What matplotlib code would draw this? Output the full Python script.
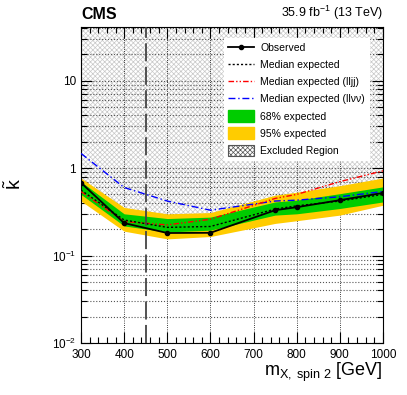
import matplotlib
matplotlib.use("Agg")
import matplotlib.pyplot as plt
import numpy as np
from matplotlib.lines import Line2D
from matplotlib.patches import Patch
from matplotlib.ticker import FixedLocator, NullFormatter

plt.rcParams["font.family"] = ["Liberation Sans", "DejaVu Sans"]
plt.rcParams["mathtext.fontset"] = "custom"
plt.rcParams["mathtext.rm"] = "Liberation Sans"
plt.rcParams["mathtext.it"] = "Liberation Sans:italic"
plt.rcParams["hatch.linewidth"] = 0.5

# ---- data ----
mass = [300, 400, 500, 600, 750, 800, 900, 1000]
observed = [0.68, 0.235, 0.181, 0.182, 0.33, 0.357, 0.43, 0.52]
expected = [0.56, 0.255, 0.21, 0.215, 0.34, 0.37, 0.42, 0.50]
exp_lljj = [0.54, 0.245, 0.224, 0.26, 0.45, 0.50, 0.70, 0.93]
exp_llvv = [1.47, 0.60, 0.42, 0.33, 0.42, 0.43, 0.47, 0.54]
band68_lo = [0.50, 0.218, 0.186, 0.195, 0.29, 0.30, 0.345, 0.41]
band68_hi = [0.70, 0.30, 0.265, 0.275, 0.41, 0.43, 0.51, 0.61]
band95_lo = [0.42, 0.19, 0.155, 0.165, 0.233, 0.25, 0.29, 0.376]
band95_hi = [0.77, 0.355, 0.30, 0.31, 0.49, 0.53, 0.63, 0.77]

xlim = (300, 1000)
ylim = (0.01, 41)
mass_cut = 450

fig = plt.figure(figsize=(4.07, 3.95), dpi=100)
ax = fig.add_axes([0.199, 0.1316, 0.742, 0.80])

# excluded region (hatched, above observed)
ax.fill_between(mass, observed, ylim[1], facecolor="none", hatch="xxxxxxx",
                edgecolor="#c8c8c8", linewidth=0, zorder=0.3)

# bands
ax.fill_between(mass, band95_lo, band95_hi, color="#ffcc00", linewidth=0, zorder=2)
ax.fill_between(mass, band68_lo, band68_hi, color="#00cc00", linewidth=0, zorder=2.1)

# lines
ax.plot(mass, exp_llvv, color="blue", lw=1.0, ls=(0, (5, 2, 1, 2)), zorder=3)
ax.plot(mass, exp_lljj, color="red", lw=1.0, ls=(0, (4, 1.5, 1, 1.5, 1, 1.5)), zorder=3)
ax.plot(mass, expected, color="black", lw=1.0, ls=(0, (1.5, 1.5)), zorder=3.1)
ax.plot(mass, observed, color="black", lw=1.3, marker="o", ms=3, zorder=3.2)

ax.axvline(mass_cut, color="#444444", lw=1.3, ls=(0, (10, 3)), zorder=3.3)

ax.set_xlim(*xlim)
ax.set_yscale("log")
ax.set_ylim(*ylim)

# ticks
ax.set_xticks(np.arange(300, 1001, 100))
ax.xaxis.set_minor_locator(FixedLocator(np.arange(300, 1001, 20)))
ax.set_yticks([0.01, 0.1, 1, 10])
ax.set_yticklabels(["10$^{-2}$", "10$^{-1}$", "1", "10"])
ax.yaxis.set_minor_formatter(NullFormatter())
ax.tick_params(which="both", direction="in", top=True, right=True, labelsize=8.5)
ax.tick_params(which="major", length=8, width=0.8)
ax.tick_params(which="minor", length=4, width=0.8)
ax.tick_params(axis="x", pad=4)

ax.set_axisbelow(True)
ax.grid(which="major", axis="x", color="black", ls=":", lw=0.6, zorder=0.5)
ax.grid(which="both", axis="y", color="#555555", ls=":", lw=0.8, zorder=0.5)

# labels
fig.text(0.941, 0.028, r"m$_{\mathrm{X,\ spin\ 2}}$ [GeV]", ha="right", va="bottom",
         fontsize=13)
fig.text(0.035, 0.535, r"$\tilde{\mathrm{k}}$", rotation=90, ha="center", va="center",
         fontsize=14)
fig.text(0.199, 0.945, "CMS", fontweight="bold", fontsize=11.5, ha="left", va="bottom")
fig.text(0.941, 0.945, r"35.9 fb$^{-1}$ (13 TeV)", fontsize=9, ha="right", va="bottom")

handles = [
    Line2D([], [], color="black", lw=1.3, marker="o", ms=3),
    Line2D([], [], color="black", lw=1.0, ls=(0, (1.5, 1.5))),
    Line2D([], [], color="red", lw=1.0, ls=(0, (4, 1.5, 1, 1.5, 1, 1.5))),
    Line2D([], [], color="blue", lw=1.0, ls=(0, (5, 2, 1, 2))),
    Patch(facecolor="#00cc00", edgecolor="#00cc00"),
    Patch(facecolor="#ffcc00", edgecolor="#ffcc00"),
    Patch(facecolor="white", edgecolor="#555555", hatch="xxxxxxx", lw=0.8),
]
labels = ["Observed", "Median expected", "Median expected (lljj)",
          "Median expected (ll\u03bd\u03bd)", "68% expected", "95% expected",
          "Excluded Region"]
leg = ax.legend(handles, labels, loc="upper left", bbox_to_anchor=(0.455, 0.982),
                fontsize=7.5, frameon=True, fancybox=False, framealpha=1,
                edgecolor="white", borderpad=0.4, labelspacing=0.55,
                handlelength=2.5, handleheight=1.3, handletextpad=0.6)
leg.set_zorder(5)

fig.savefig("out.png", dpi=100)
